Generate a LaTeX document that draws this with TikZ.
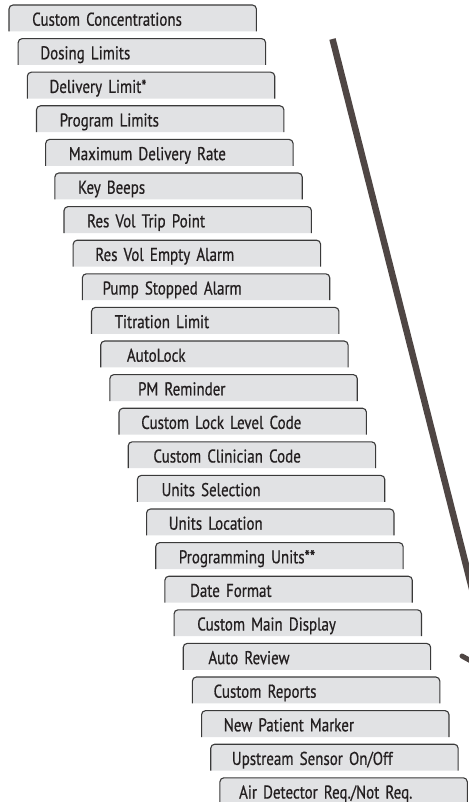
\documentclass[tikz,border=0pt]{standalone}
\usepackage{fontspec}
\newfontfamily\tabfont{PT Sans}[FakeStretch=0.81, FakeBold=0.6]
\usetikzlibrary{backgrounds}

\definecolor{tabgray}{HTML}{E1E2E4}
\definecolor{tabline}{HTML}{3A3A3A}
\definecolor{tabtext}{HTML}{231F20}
\definecolor{ptrgray}{HTML}{4F4644}

\begin{document}
\begin{tikzpicture}[
  x=1pt, y=-1pt,
  tab/.style={anchor=north west, minimum width=247pt, minimum height=26pt,
    text width=247pt, inner xsep=0pt, inner ysep=0pt, align=left,
    text height=15pt, text depth=0pt, text=tabtext, font=\tabfont\fontsize{18.5}{20}\selectfont},
  tabedge/.style={draw=tabline, fill=tabgray, line width=1.1pt, rounded corners=4pt},
  ptr/.style={draw=ptrgray, line width=6.5pt}
]
  \useasboundingbox (0,0) rectangle (468,802);

  % settings menu tabs, each one step down and to the right
  \foreach \ind/\lbl [count=\i from 0] in {
      23/Custom Concentrations, 22/Dosing Limits, 22/Delivery Limit*,
      23/Program Limits, 23/Maximum Delivery Rate, 23/Key Beeps,
      23/Res Vol Trip Point, 22/Res Vol Empty Alarm, 20/Pump Stopped Alarm,
      23/Titration Limit, 26/AutoLock, 28/PM Reminder,
      22/Custom Lock Level Code, 25/Custom Clinician Code, 24/Units Selection,
      22/Units Location, 23/Programming Units**, 25/Date Format,
      23/Custom Main Display, 25/Auto Review, 21/Custom Reports,
      22/New Patient Marker, 21/{Upstream Sensor On/Off}, 19/{Air Detector Req./Not Req.}} {
    \node[tab] (t\i) at ({9+9.17*\i}, {5+33.6*\i}) {\hspace*{\ind pt}\lbl};
    \scoped[on background layer]
      \path[tabedge] (t\i.south west) -- (t\i.north west) -- (t\i.north east) -- (t\i.south east);
  }

  % scroll pointer
  \coordinate (ptrtop) at (332.5,39);
  \coordinate (ptrend) at (485,640);
  \draw[ptr] (ptrtop) -- (ptrend);
  \coordinate (barbA) at (462,656);
  \coordinate (barbB) at (471,661);
  \draw[ptr, line width=5pt, line cap=round] (barbA) -- (barbB);
\end{tikzpicture}
\end{document}
